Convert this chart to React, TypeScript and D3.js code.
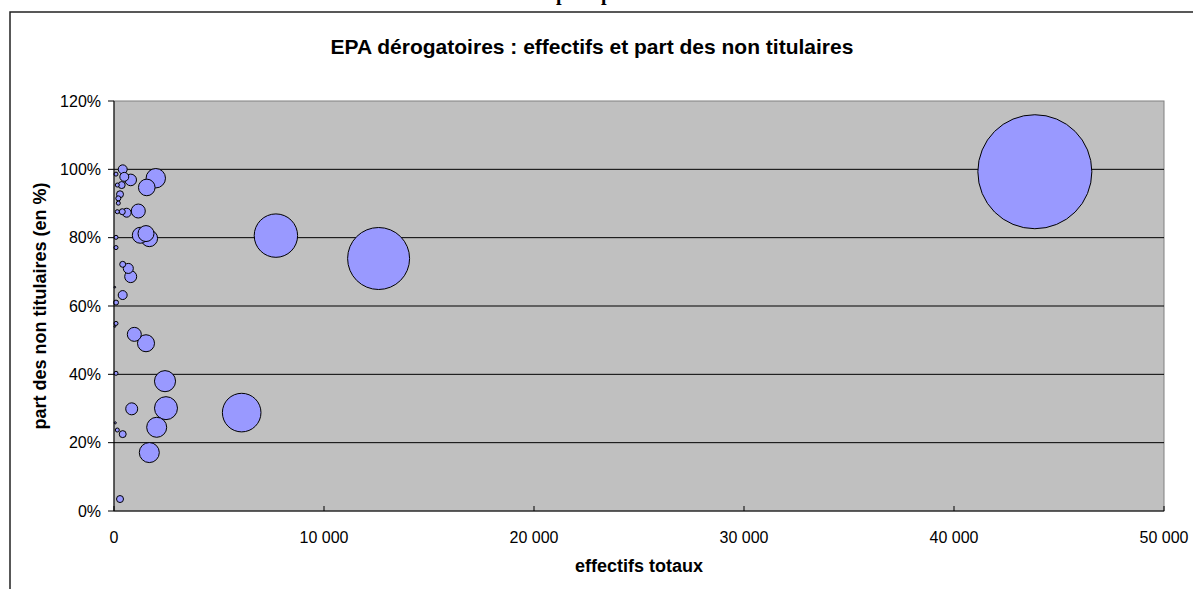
import React from "react";
import * as d3 from "d3";

// EPA dérogatoires : effectifs totaux, part des non titulaires (%), taille de bulle
const effectifs = [
  43850, 12600, 7710, 6080, 1990, 1560, 415, 490, 795, 95, 157, 365, 286, 205,
  205, 157, 395, 603, 1157, 95, 95, 1252, 1524, 1681, 414, 681, 795, 414, 95,
  95, 967, 1524, 95, 2429, 843, 2476, 2033, 60, 157, 414, 1681, 286, 40, 40,
];
const partNonTitulaires = [
  99.3, 73.9, 80.6, 28.8, 97.4, 94.7, 100.0, 97.8, 96.9, 98.6, 95.4, 95.4, 92.7,
  91.5, 90.1, 87.6, 87.6, 87.3, 87.8, 80.1, 77.1, 80.7, 81.2, 79.8, 72.2, 71.0,
  68.6, 63.2, 61.0, 54.9, 51.7, 49.1, 40.3, 38.0, 29.9, 30.1, 24.5, 25.8, 23.7,
  22.5, 17.1, 3.5, 65.5, 54.0,
];
const tailles = [
  43800, 12950, 6350, 5020, 1270, 930, 270, 270, 455, 55, 55, 165, 165, 85, 55,
  55, 120, 270, 660, 55, 55, 860, 860, 930, 120, 340, 485, 270, 85, 55, 660,
  975, 55, 1500, 485, 1780, 1350, 15, 55, 165, 1350, 165, 10, 10,
];

const xTicks = [0, 10000, 20000, 30000, 40000, 50000];
const yTicks = [0, 20, 40, 60, 80, 100, 120];

const title = "EPA dérogatoires : effectifs et part des non titulaires";
const xTitle = "effectifs totaux";
const yTitle = "part des non titulaires (en %)";

export default function App() {
  const W = 1193;
  const H = 589;
  const left = 114, right = 1164, top = 101, bottom = 511;

  const x = d3.scaleLinear().domain([0, 50000]).range([left, right]);
  const y = d3.scaleLinear().domain([0, 120]).range([bottom, top]);
  const r = d3.scaleSqrt().domain([0, d3.max(tailles) as number]).range([0, 57]);

  const fmt = d3
    .formatLocale({ decimal: ",", thousands: " ", grouping: [3], currency: ["", ""] })
    .format(",d");

  // big bubbles first, small ones on top
  const bubbles = effectifs
    .map((e, i) => ({ e, p: partNonTitulaires[i], s: tailles[i] }))
    .sort((a, b) => b.s - a.s);

  const font = "'Liberation Sans', Arial, sans-serif";

  return (
    <svg
      width={W}
      height={H}
      style={{ position: "absolute", left: 0, top: 0, background: "#fff" }}
      fontFamily={font}
    >
      {/* bout de texte coupé au-dessus */}
      <text x={556} y={0} fontFamily="'Liberation Serif', serif" fontWeight="bold" fontSize={20}>
        p
      </text>
      <text x={601} y={0} fontFamily="'Liberation Serif', serif" fontWeight="bold" fontSize={20}>
        p
      </text>

      {/* cadre du graphique */}
      <rect x={10} y={12} width={1300} height={700} fill="#fff" stroke="#222" strokeWidth={1.5} />

      <text x={592} y={54} textAnchor="middle" fontWeight="bold" fontSize={21}>
        {title}
      </text>

      {/* zone de traçage */}
      <rect x={left} y={top} width={right - left} height={bottom - top} fill="#C0C0C0" stroke="#808080" />

      {yTicks.filter((t) => t > 0 && t < 120).map((t) => (
        <line key={"g" + t} x1={left} x2={right} y1={y(t)} y2={y(t)} stroke="#000" />
      ))}

      {bubbles.map((b, i) => (
        <circle key={i} cx={x(b.e)} cy={y(b.p)} r={r(b.s)} fill="#9999FF" stroke="#000" strokeWidth={1} />
      ))}

      {/* axes */}
      <line x1={left} x2={left} y1={top} y2={bottom} stroke="#000" />
      <line x1={left} x2={right} y1={bottom} y2={bottom} stroke="#000" />

      {yTicks.map((t) => (
        <g key={"y" + t}>
          <line x1={left - 6} x2={left} y1={y(t)} y2={y(t)} stroke="#000" />
          <text x={101} y={y(t) + 5.5} textAnchor="end" fontSize={16}>
            {t + "%"}
          </text>
        </g>
      ))}

      {xTicks.map((t) => (
        <g key={"x" + t}>
          <line x1={x(t)} x2={x(t)} y1={bottom} y2={bottom - 5} stroke="#000" />
          <text x={x(t)} y={543} textAnchor="middle" fontSize={16}>
            {fmt(t)}
          </text>
        </g>
      ))}

      <text x={639} y={572} textAnchor="middle" fontWeight="bold" fontSize={18}>
        {xTitle}
      </text>
      <text
        transform={`translate(46, ${(top + bottom) / 2}) rotate(-90)`}
        textAnchor="middle"
        fontWeight="bold"
        fontSize={18}
      >
        {yTitle}
      </text>
    </svg>
  );
}
